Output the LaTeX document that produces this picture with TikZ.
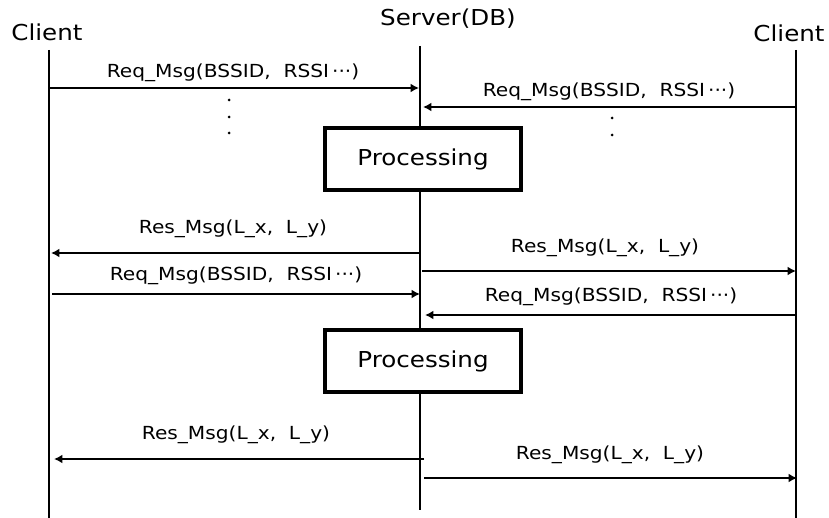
\documentclass[tikz,border=0pt]{standalone}
\usepackage{fontspec}
\setmainfont{DejaVu Sans}
\newfontfamily\seqfont[FakeStretch=1.12]{DejaVu Sans}
\usetikzlibrary{arrows.meta}

\tikzset{
  actor/.style={font=\seqfont\fontsize{15.6pt}{18pt}\selectfont, inner sep=0pt, anchor=center},
  lifeline/.style={line width=1.4pt},
  msg/.style={line width=1.4pt, -{Latex[length=6pt,width=6.4pt]}},
  msglabel/.style={font=\seqfont\fontsize{12.8pt}{15pt}\selectfont, inner sep=0pt, anchor=center},
  procbox/.style={draw, line width=2.2pt, fill=white, minimum width=196*0.025cm,
    minimum height=62*0.025cm, font=\seqfont\fontsize{15.6pt}{18pt}\selectfont},
  ellipsisdot/.style={fill=black}
}

\begin{document}
\begin{tikzpicture}[x=0.025cm, y=-0.025cm]
  \useasboundingbox (0,0) rectangle (829,518);

  % participants
  \node[actor] (cl) at (47,32) {Client};
  \node[actor] (srv) at (448,19) {Server(DB)};
  \node[actor] (cr) at (789,33) {Client};

  % lifeline ends
  \coordinate (clTop) at (49,50);   \coordinate (clBot) at (49,518);
  \coordinate (srvTop) at (420,46); \coordinate (srvBot) at (420,510);
  \coordinate (crTop) at (796,50);  \coordinate (crBot) at (796,518);
  \draw[lifeline] (clTop) -- (clBot);
  \draw[lifeline] (srvTop) -- (srvBot);
  \draw[lifeline] (crTop) -- (crBot);

  % processing steps on the server
  \node[procbox] (proc1) at (423,159) {Processing};
  \node[procbox] (proc2) at (423,361) {Processing};

  % message anchors on the lifelines
  \coordinate (a1) at (49,88);   \coordinate (b1) at (419,88);
  \coordinate (a2) at (796,107); \coordinate (b2) at (423,107);
  \coordinate (a3) at (420,253); \coordinate (b3) at (51,253);
  \coordinate (a4) at (422,271); \coordinate (b4) at (796,271);
  \coordinate (a5) at (52,294);  \coordinate (b5) at (420,294);
  \coordinate (a6) at (796,315); \coordinate (b6) at (425,315);
  \coordinate (a7) at (424,459); \coordinate (b7) at (54,459);
  \coordinate (a8) at (424,478); \coordinate (b8) at (797,478);

  % messages
  \draw[msg] (a1) -- (b1);
  \node[msglabel] (m1) at (233,73) {Req\_Msg(BSSID,\ \ RSSI\,···)};
  \draw[msg] (a2) -- (b2);
  \node[msglabel] (m2) at (609,92) {Req\_Msg(BSSID,\ \ RSSI\,···)};
  \draw[msg] (a3) -- (b3);
  \node[msglabel] (m3) at (233,229) {Res\_Msg(L\_x,\ \ L\_y)};
  \draw[msg] (a4) -- (b4);
  \node[msglabel] (m4) at (605,248) {Res\_Msg(L\_x,\ \ L\_y)};
  \draw[msg] (a5) -- (b5);
  \node[msglabel] (m5) at (236,276) {Req\_Msg(BSSID,\ \ RSSI\,···)};
  \draw[msg] (a6) -- (b6);
  \node[msglabel] (m6) at (611,297) {Req\_Msg(BSSID,\ \ RSSI\,···)};
  \draw[msg] (a7) -- (b7);
  \node[msglabel] (m7) at (236,435) {Res\_Msg(L\_x,\ \ L\_y)};
  \draw[msg] (a8) -- (b8);
  \node[msglabel] (m8) at (610,455) {Res\_Msg(L\_x,\ \ L\_y)};

  % vertical ellipses between repeated requests
  \foreach \yy in {100,117,133} \fill[ellipsisdot] (229,\yy) circle (1.5);
  \foreach \yy in {118,135} \fill[ellipsisdot] (612,\yy) circle (1.5);
\end{tikzpicture}
\end{document}
